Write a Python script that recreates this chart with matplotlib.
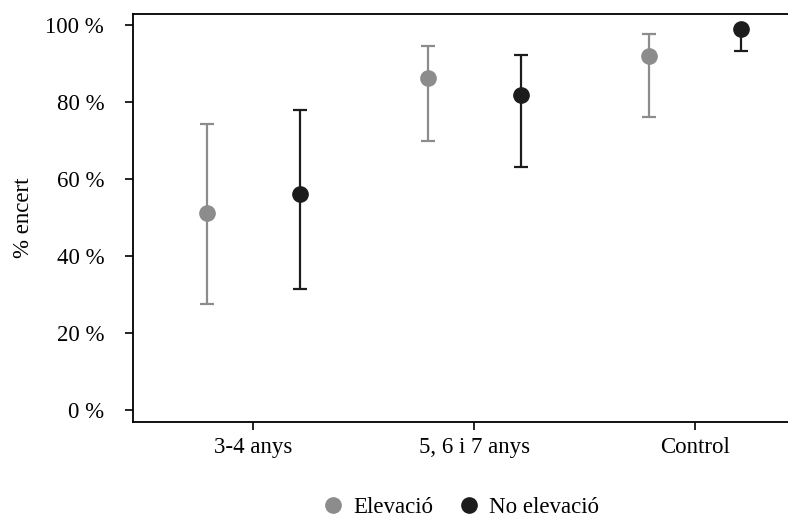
import matplotlib
matplotlib.use("Agg")
import matplotlib.pyplot as plt
import numpy as np
from matplotlib.lines import Line2D

categories = ["3-4 anys", "5, 6 i 7 anys", "Control"]
series_names = ["Elevació", "No elevació"]
elev_mean = [51.3, 86.3, 91.9]
elev_low = [27.5, 69.9, 76.1]
elev_high = [74.3, 94.5, 97.6]
noel_mean = [56.1, 81.8, 98.9]
noel_low = [31.5, 63.1, 93.2]
noel_high = [77.9, 92.3, 99.6]
yticks = [0, 20, 40, 60, 80, 100]

plt.rcParams['font.family'] = ['Liberation Serif', 'DejaVu Serif']

fig = plt.figure(figsize=(7.88, 5.18), dpi=100)
ax = fig.add_axes([133.3/788, 1 - 421.7/518, 1 - 133.3/788, (421.7 - 14)/518])

gray = "#8c8c8c"
black = "#1c1c1c"
x = np.arange(len(categories))
off = 0.21

for means, lows, highs, dx, col in [
    (elev_mean, elev_low, elev_high, -off, gray),
    (noel_mean, noel_low, noel_high, off, black),
]:
    m = np.array(means); lo = np.array(lows); hi = np.array(highs)
    ax.errorbar(x + dx, m, yerr=[m - lo, hi - m], fmt='o', color=col,
                ecolor=col, elinewidth=1.6, capsize=5, capthick=1.6,
                markersize=11, zorder=3)

ax.set_xlim(-0.543, 2.421)
ax.set_ylim(-2.96, 102.85)
ax.set_xticks(x)
ax.set_xticklabels(categories)
ax.set_yticks(yticks)
ax.set_yticklabels([f"{v} %" for v in yticks])
ax.spines['right'].set_visible(False)
for s in ['left', 'bottom', 'top']:
    ax.spines[s].set_linewidth(1.3)
    ax.spines[s].set_color('black')
ax.tick_params(axis='both', length=6, width=1.2, labelsize=16.5, colors='black')
ax.tick_params(axis='y', pad=15)
ax.tick_params(axis='x', pad=5)
ax.set_ylabel("% encert", fontsize=16.5, labelpad=8)

handles = [Line2D([], [], marker='o', linestyle='none', color=gray, markersize=11),
           Line2D([], [], marker='o', linestyle='none', color=black, markersize=11)]
fig.legend(handles, series_names, loc='center', bbox_to_anchor=(0.577, 0.021),
           ncol=2, frameon=False, fontsize=16.5, handletextpad=-0.15,
           columnspacing=0.6, borderaxespad=0)

fig.savefig("out.png", dpi=100)
